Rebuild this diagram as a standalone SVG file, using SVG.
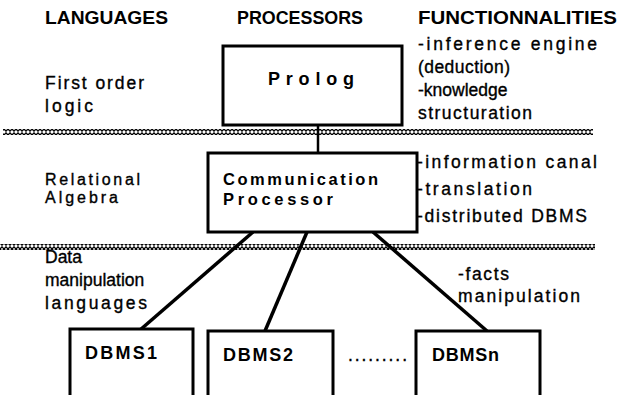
<svg xmlns="http://www.w3.org/2000/svg" width="621" height="395" viewBox="0 0 621 395">
<style>
text{font-family:"Liberation Sans",Arial,sans-serif;fill:#000;}
.h{font-size:17.5px;font-weight:bold;}
.b{font-size:18px;font-weight:bold;}
.b2{font-size:16.5px;font-weight:bold;}
.t{font-size:17.5px;stroke:#000;stroke-width:0.35px;}
.s{font-size:16px;stroke:#000;stroke-width:0.35px;}
.box{fill:#fff;stroke:#000;stroke-width:3;}
.con{stroke:#000;stroke-width:3.5;fill:none;stroke-linecap:butt;}
</style>
<defs>
<pattern id="rope" patternUnits="userSpaceOnUse" width="4" height="6" x="0" y="0">
<path d="M0,3 L2,0.9 L4,3 L2,5.1 Z" fill="none" stroke="#000" stroke-width="1.3"/>
</pattern>
</defs>
<g id="headers">
<text class="h" x="45" y="24" textLength="123" lengthAdjust="spacingAndGlyphs">LANGUAGES</text>
<text class="h" x="237" y="24" textLength="126" lengthAdjust="spacingAndGlyphs">PROCESSORS</text>
<text class="h" x="418" y="24" textLength="199" lengthAdjust="spacingAndGlyphs">FUNCTIONNALITIES</text>
</g>
<g id="separators">
<rect x="3" y="129" width="590" height="6" fill="url(#rope)"/>
<rect x="0" y="244" width="595" height="6" fill="url(#rope)"/>
</g>
<g id="connectors">
<line class="con" x1="318" y1="125" x2="318" y2="153" style="stroke-width:2.5"/>
<line class="con" x1="253" y1="232" x2="140" y2="330"/>
<line class="con" x1="307" y1="232" x2="265" y2="331"/>
<line class="con" x1="373" y1="232" x2="487" y2="331"/>
</g>
<g id="lang-fol">
<text class="t" x="45" y="89" textLength="99" lengthAdjust="spacing">First order</text>
<text class="t" x="45" y="112" textLength="48" lengthAdjust="spacing">logic</text>
</g>
<g id="prolog">
<rect class="box" x="223" y="46" width="179" height="79"/>
<text class="b" x="268" y="85" textLength="86" lengthAdjust="spacing">Prolog</text>
</g>
<g id="func-prolog">
<text class="t" x="418" y="50" textLength="179" lengthAdjust="spacing">-inference engine</text>
<text class="t" x="418" y="73" textLength="92" lengthAdjust="spacing">(deduction)</text>
<text class="t" x="418" y="96">-knowledge</text>
<text class="t" x="418" y="119" textLength="114" lengthAdjust="spacing">structuration</text>
</g>
<g id="lang-ra">
<text class="s" x="45" y="185" textLength="95" lengthAdjust="spacing">Relational</text>
<text class="s" x="45" y="203" textLength="73" lengthAdjust="spacing">Algebra</text>
</g>
<g id="comm-processor">
<rect class="box" x="208" y="153" width="209" height="79"/>
<text class="b2" x="223" y="185" textLength="155" lengthAdjust="spacing">Communication</text>
<text class="b2" x="223" y="205" textLength="110" lengthAdjust="spacing">Processor</text>
</g>
<g id="func-cp">
<text class="t" x="417" y="168" textLength="180" lengthAdjust="spacing">-information canal</text>
<text class="t" x="417" y="195" textLength="115" lengthAdjust="spacing">-translation</text>
<text class="t" x="417" y="222" textLength="170" lengthAdjust="spacing">-distributed DBMS</text>
</g>
<g id="lang-dml">
<text class="t" x="45" y="263">Data</text>
<text class="t" x="45" y="286">manipulation</text>
<text class="t" x="45" y="309" textLength="102" lengthAdjust="spacing">languages</text>
</g>
<g id="func-facts">
<text class="t" x="458" y="280" textLength="51" lengthAdjust="spacing">-facts</text>
<text class="t" x="458" y="302" textLength="122" lengthAdjust="spacing">manipulation</text>
</g>
<g id="dbms1">
<rect class="box" x="70" y="329" width="123" height="80"/>
<text class="b" x="85" y="359" textLength="72" lengthAdjust="spacing">DBMS1</text>
</g>
<g id="dbms2">
<rect class="box" x="208" y="331" width="125" height="80"/>
<text class="b" x="223" y="361" textLength="70" lengthAdjust="spacing">DBMS2</text>
</g>
<text class="t" x="348" y="361" textLength="59" lengthAdjust="spacing">.........</text>
<g id="dbmsn">
<rect class="box" x="416" y="331" width="124" height="80"/>
<text class="b" x="432" y="361" textLength="67" lengthAdjust="spacing">DBMSn</text>
</g>
</svg>
